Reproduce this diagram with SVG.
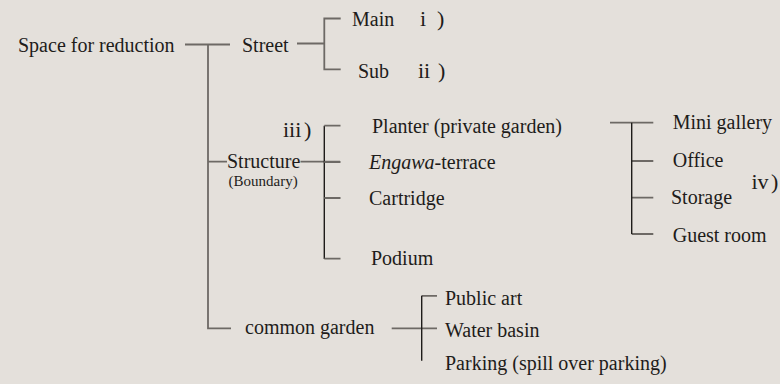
<svg xmlns="http://www.w3.org/2000/svg" width="780" height="384" viewBox="0 0 780 384" font-family="'Liberation Serif', 'Times New Roman', 'DejaVu Serif', serif">
<style>
text{font-family:'Liberation Serif','Times New Roman','DejaVu Serif',serif;font-size:20px;fill:#1e1c1a}
.sm{font-size:15px}
.num{font-size:22px}
.g{stroke:#6d6965;stroke-width:1.8;fill:none}
.k{stroke:#1e1c1a;stroke-width:1.4;fill:none}
</style>
<rect width="780" height="384" fill="#e4e0db"/>
<g id="connectors">
<path class="g" d="M185 44.5H230M208 44.5V328.3H231"/>
<path class="g" d="M297 43.5H324.3M340.7 18.5H324.3V69.3H340.7"/>
<path class="g" d="M208 161.7H227M300.5 161.7H340"/>
<path class="k" d="M324.3 125.7V259"/>
<path class="g" d="M324.3 125.7H340.5M324.3 162H340.5M324.3 198H340.5M324.3 258.7H340.5"/>
<path class="g" d="M610 122.7H653.3M631.7 161H653.3M631.7 197.7H653.3M631.7 234H653.3"/>
<path class="k" d="M631.7 122.7V234"/>
<path class="g" d="M391.7 328.3H437M421.7 295.8H437"/>
<path class="k" d="M421.7 295.8V360.7"/>
</g>
<g id="space"><text x="18" y="52">Space for reduction</text></g>
<g id="street"><text x="242" y="52">Street</text></g>
<g id="main"><text x="352" y="25.5">Main</text><text class="num" x="420" y="26">i<tspan x="437">)</tspan></text></g>
<g id="sub"><text x="358" y="77.5">Sub</text><text class="num" x="418" y="78">ii<tspan x="438">)</tspan></text></g>
<g id="structure"><text x="227" y="168.3">Structure</text><text class="sm" x="228.5" y="186">(Boundary)</text><text class="num" x="283" y="137">iii<tspan x="304">)</tspan></text></g>
<g id="planter"><text x="372" y="133.3">Planter (private garden)</text></g>
<g id="engawa"><text x="369" y="168.5"><tspan font-style="italic">Engawa</tspan>-terrace</text></g>
<g id="cartridge"><text x="369" y="205">Cartridge</text></g>
<g id="podium"><text x="371" y="265">Podium</text></g>
<g id="mini-gallery"><text x="672.7" y="129.3">Mini gallery</text></g>
<g id="office"><text x="672.7" y="167.3">Office</text></g>
<g id="storage"><text x="671" y="203.5">Storage</text></g>
<g id="guest-room"><text x="672.7" y="241.7">Guest room</text></g>
<g id="iv"><text class="num" x="751.5" y="189">iv<tspan x="771">)</tspan></text></g>
<g id="common-garden"><text x="245" y="333.5">common garden</text></g>
<g id="public-art"><text x="445" y="304.5">Public art</text></g>
<g id="water-basin"><text x="445" y="336.7">Water basin</text></g>
<g id="parking"><text x="445" y="369.5">Parking (spill over parking)</text></g>
</svg>
